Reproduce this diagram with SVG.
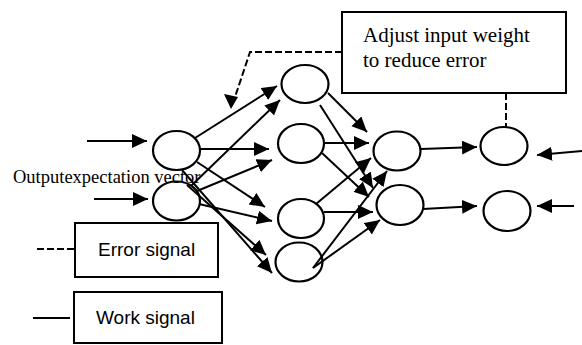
<svg xmlns="http://www.w3.org/2000/svg" width="582" height="345" viewBox="0 0 582 345">
<defs>
<marker id="ah" markerUnits="userSpaceOnUse" markerWidth="16" markerHeight="15" refX="15" refY="7" orient="auto">
<path d="M0,0 L15,7 L0,14 z" fill="#000"/>
</marker>
<style>
.n{fill:none;stroke:#000;stroke-width:2.2}
.c{fill:none;stroke:#000;stroke-width:2;marker-end:url(#ah)}
.d{fill:none;stroke:#000;stroke-width:2;stroke-dasharray:7,3}
.b{fill:#fff;stroke:#000;stroke-width:2}
.serif{font-family:"Liberation Serif","Times New Roman",serif;fill:#000}
.sans{font-family:"Liberation Sans",Arial,sans-serif;font-size:19px;fill:#000}
</style>
</defs>
<rect width="582" height="345" fill="#fff"/>
<g id="connectors">
<line class="c" x1="87" y1="141" x2="147" y2="141"/>
<line class="c" x1="94" y1="199" x2="148" y2="199"/>
<line class="c" x1="195" y1="138" x2="277" y2="86"/>
<line class="c" x1="200" y1="149" x2="269" y2="149"/>
<line class="c" x1="197" y1="162" x2="265" y2="207"/>
<line class="c" x1="182" y1="170" x2="272" y2="273"/>
<line class="c" x1="191" y1="186" x2="280" y2="100"/>
<line class="c" x1="197" y1="191" x2="272" y2="160"/>
<line class="c" x1="199" y1="204" x2="272" y2="221"/>
<line class="c" x1="187" y1="185" x2="266" y2="255"/>
<line class="c" x1="328" y1="93" x2="367" y2="132"/>
<line class="c" x1="320" y1="105" x2="373" y2="188"/>
<line class="c" x1="325" y1="143" x2="369" y2="143"/>
<line class="c" x1="322" y1="153" x2="369" y2="197"/>
<line class="c" x1="316" y1="204" x2="371" y2="158"/>
<line class="c" x1="324" y1="212" x2="373" y2="212"/>
<line class="c" x1="313" y1="268" x2="387" y2="171"/>
<line class="c" x1="313" y1="268" x2="380" y2="220"/>
<line class="c" x1="421" y1="149" x2="477" y2="147"/>
<line class="c" x1="423" y1="209" x2="477" y2="206"/>
<line class="c" x1="582" y1="151" x2="537" y2="155"/>
<line class="c" x1="574" y1="206" x2="537" y2="206"/>
<polyline class="d" points="342,52 250,52 234,100"/>
<polygon points="238,97 224,94 231,109" fill="#000"/>
<line class="d" x1="506" y1="93" x2="506" y2="127"/>
<line class="d" x1="37" y1="249" x2="75" y2="249"/>
<line x1="33" y1="318" x2="70" y2="318" stroke="#000" stroke-width="2"/>
</g>
<text class="serif" x="13" y="183" font-size="18.5">Outputexpectation vector</text>
<g id="A"><ellipse class="n" cx="176.5" cy="150.5" rx="23.5" ry="19.5"/></g>
<g id="B"><ellipse class="n" cx="176.5" cy="201" rx="23.5" ry="19.5"/></g>
<g id="C"><ellipse class="n" cx="305" cy="84" rx="23.5" ry="19"/></g>
<g id="D"><ellipse class="n" cx="301" cy="143.5" rx="23" ry="19.5"/></g>
<g id="E"><ellipse class="n" cx="301" cy="218.5" rx="23" ry="19.5"/></g>
<g id="F"><ellipse class="n" cx="299" cy="262" rx="23.5" ry="19.5"/></g>
<g id="G"><ellipse class="n" cx="397" cy="151" rx="23.5" ry="19.5"/></g>
<g id="H"><ellipse class="n" cx="400" cy="205" rx="23.5" ry="20"/></g>
<g id="I"><ellipse class="n" cx="504" cy="146" rx="23.5" ry="19"/></g>
<g id="J"><ellipse class="n" cx="507" cy="211" rx="23.5" ry="20"/></g>
<g id="adjust">
<rect class="b" x="342" y="12" width="224" height="81"/>
<text class="serif" x="363" y="42" font-size="21">Adjust input weight</text>
<text class="serif" x="363" y="67" font-size="21">to reduce error</text>
</g>
<g id="error-legend">
<rect class="b" x="75" y="223" width="143" height="54"/>
<text class="sans" x="98" y="256">Error signal</text>
</g>
<g id="work-legend">
<rect class="b" x="74" y="292" width="148" height="51"/>
<text class="sans" x="96" y="324">Work signal</text>
</g>
</svg>
